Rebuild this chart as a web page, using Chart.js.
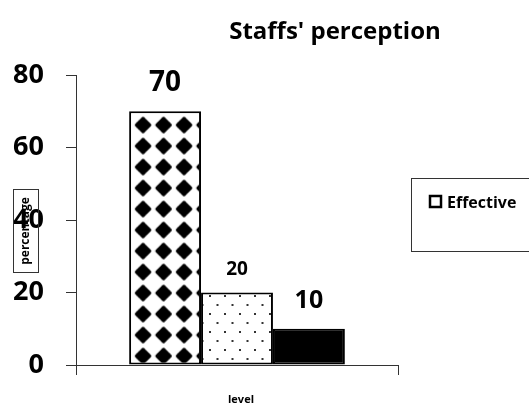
<!DOCTYPE html>
<html>
<head>
<meta charset="utf-8">
<script src="https://cdn.jsdelivr.net/npm/chart.js@4/dist/chart.umd.min.js"></script>
<style>
  html, body { margin: 0; padding: 0; background: #fff; }
  #wrap { width: 529px; height: 406px; }
</style>
</head>
<body>
<div id="wrap"><canvas id="chart"></canvas></div>
<script>
const TITLE = "Staffs' perception";
const categories = [""];
const seriesNames = ["Effective", "Fairly effective", "Not effective"];
const seriesValues = [70, 20, 10];
const yTicks = [0, 20, 40, 60, 80];
const yTitle = "percentage";
const xTitle = "level";

// per-bar value label look (font px, gap above bar)
const labelFont = [28, 19, 25];
const labelGap = [20, 18, 21];

const FONT = '"Open Sans", "DejaVu Sans", sans-serif';

function makeTile(w, h, draw) {
  const c = document.createElement("canvas");
  c.width = w;
  c.height = h;
  const g = c.getContext("2d");
  g.fillStyle = "#fff";
  g.fillRect(0, 0, w, h);
  draw(g);
  return c;
}

const ctx = document.getElementById("chart").getContext("2d");

// 2x2 diamonds per tile so the spacing can be 20.5 x 21
const diamondTile = makeTile(41, 42, (g) => {
  g.fillStyle = "#000";
  g.strokeStyle = "#000";
  g.lineWidth = 2.5;
  g.lineJoin = "round";
  [[10.25, 10.5], [30.75, 10.5], [10.25, 31.5], [30.75, 31.5]].forEach(([cx, cy]) => {
    const r = 7;
    g.beginPath();
    g.moveTo(cx, cy - r);
    g.lineTo(cx + r, cy);
    g.lineTo(cx, cy + r);
    g.lineTo(cx - r, cy);
    g.closePath();
    g.fill();
    g.stroke();
  });
});
const diamondPattern = ctx.createPattern(diamondTile, "repeat");
diamondPattern.setTransform(new DOMMatrix().translate(132.75, 114.5));

const dotTile = makeTile(15, 18, (g) => {
  g.fillStyle = "#333";
  g.fillRect(2, 2, 2, 2);
  g.fillRect(9.5, 11, 2, 2);
});
const dotPattern = ctx.createPattern(dotTile, "repeat");
dotPattern.setTransform(new DOMMatrix().translate(207, 293));

const fills = [diamondPattern, dotPattern, "#000"];

const datasets = seriesNames.map((name, i) => ({
  label: name,
  data: [seriesValues[i]],
  backgroundColor: fills[i],
  borderColor: "#000",
  borderWidth: 2,
  borderSkipped: false,
  categoryPercentage: 0.67,
  barPercentage: 1,
}));

const chartText = {
  id: "chartText",
  afterDraw(chart) {
    const c = chart.ctx;
    const area = chart.chartArea;
    c.save();
    c.fillStyle = "#000";

    // title
    c.textAlign = "center";
    c.textBaseline = "alphabetic";
    c.font = `bold 24px ${FONT}`;
    c.fillText(TITLE, 335, 39);

    // value labels
    chart.data.datasets.forEach((ds, i) => {
      const bar = chart.getDatasetMeta(i).data[0];
      c.font = `bold ${labelFont[i]}px ${FONT}`;
      c.fillText(String(ds.data[0]), bar.x, bar.y - labelGap[i]);
    });

    // x title
    c.font = `bold 11px ${FONT}`;
    c.textBaseline = "middle";
    c.fillText(xTitle, (area.left + area.right) / 2 + 4, 400);

    // y title in a box, over the tick labels
    c.strokeStyle = "#333";
    c.lineWidth = 1;
    c.strokeRect(13.5, 189.5, 25, 83);
    c.save();
    c.translate(26, 231);
    c.rotate(-Math.PI / 2);
    c.font = `bold 12px ${FONT}`;
    c.fillText(yTitle, 0, 0);
    c.restore();

    // legend (only first series is shown in the reference)
    c.strokeRect(411.5, 178.5, 130, 73);
    c.lineWidth = 2.5;
    c.strokeStyle = "#000";
    c.strokeRect(430, 196, 11, 11);
    c.textAlign = "left";
    c.textBaseline = "alphabetic";
    c.font = `bold 16px ${FONT}`;
    c.fillText(chart.data.datasets[0].label, 447, 208);
    c.restore();
  },
};

new Chart(ctx, {
  type: "bar",
  data: { labels: categories, datasets },
  options: {
    responsive: true,
    maintainAspectRatio: false,
    animation: false,
    layout: { padding: { top: 75, right: 131, bottom: 31, left: 10 } },
    plugins: {
      legend: { display: false },
      title: { display: false },
      tooltip: { enabled: false },
    },
    scales: {
      x: {
        ticks: { display: false },
        grid: {
          display: true,
          offset: true,
          drawOnChartArea: false,
          tickLength: 10,
          color: "#333",
        },
        border: { display: true, color: "#333", width: 1 },
        afterFit: (scale) => { scale.height = 10; },
      },
      y: {
        min: yTicks[0],
        max: yTicks[yTicks.length - 1],
        afterBuildTicks: (scale) => {
          scale.ticks = yTicks.map((v) => ({ value: v }));
        },
        ticks: {
          color: "#000",
          padding: 22,
          font: { family: FONT, size: 27, weight: "bold" },
        },
        grid: {
          display: true,
          drawOnChartArea: false,
          tickLength: 10,
          color: "#333",
        },
        border: { display: true, color: "#333", width: 1 },
        afterFit: (scale) => { scale.width = 66; },
      },
    },
  },
  plugins: [chartText],
});
</script>
</body>
</html>
